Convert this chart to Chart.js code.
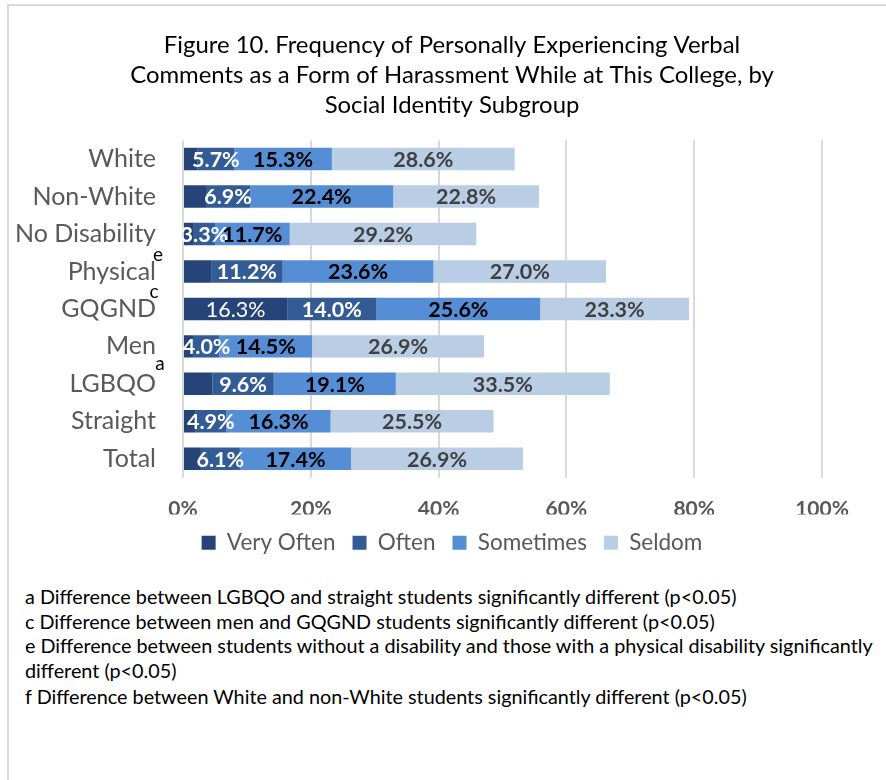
<!DOCTYPE html>
<html>
<head>
<meta charset="utf-8">
<script src="https://cdn.jsdelivr.net/npm/chart.js@4.4.1/dist/chart.umd.min.js"></script>
<style>
  html, body { margin: 0; padding: 0; background: #fff; overflow: hidden; }
  body { width: 886px; height: 780px; position: relative; overflow: hidden; font-family: Lato, "Open Sans", sans-serif; }
  #frame { position: absolute; left: 7px; top: 4px; width: 900px; height: 800px;
           border-top: 2px solid #d9d9d9; border-left: 2px solid #d9d9d9; }
  #wrap { position: absolute; left: 0; top: 0; width: 900px; height: 570px; }
  #notes { position: absolute; left: 25px; top: 584px; font-size: 19.8px; line-height: 24.6px;
           color: #000; white-space: nowrap; }
  #notes .last { margin-top: 2px; }
</style>
</head>
<body>
<div id="frame"></div>
<div id="wrap"><canvas id="myChart"></canvas></div>
<div id="notes">
<div>a Difference between LGBQO and straight students significantly different (p&lt;0.05)</div>
<div>c Difference between men and GQGND students significantly different (p&lt;0.05)</div>
<div>e Difference between students without a disability and those with a physical disability significantly</div>
<div>different (p&lt;0.05)</div>
<div class="last">f Difference between White and non-White students significantly different (p&lt;0.05)</div>
</div>
<script>
const categories = ['White', 'Non-White', 'No Disability', 'Physical', 'GQGND', 'Men', 'LGBQO', 'Straight', 'Total'];
const veryOften = [2.3, 3.6, 1.7, 4.4, 16.3, 1.7, 4.6, 1.9, 2.8];
const often = [5.7, 6.9, 3.3, 11.2, 14.0, 4.0, 9.6, 4.9, 6.1];
const sometimes = [15.3, 22.4, 11.7, 23.6, 25.6, 14.5, 19.1, 16.3, 17.4];
const seldom = [28.6, 22.8, 29.2, 27.0, 23.3, 26.9, 33.5, 25.5, 26.9];
const xTicks = [0, 20, 40, 60, 80, 100];
// superscript footnote letters attached to category labels
const superscripts = [
  { cat: 'Physical', letter: 'e', dx: 3, dy: -17 },
  { cat: 'GQGND', letter: 'c', dx: -1, dy: -17 },
  { cat: 'Men', letter: 'a', dx: 5, dy: 17 }
];

const FONT = 'Lato, "Open Sans", sans-serif';

// draws the value labels inside the bar segments
const segLabels = {
  id: 'segLabels',
  afterDatasetsDraw(chart) {
    const ctx = chart.ctx;
    ctx.save();
    ctx.textAlign = 'center';
    ctx.textBaseline = 'middle';
    chart.data.datasets.forEach((ds, di) => {
      const meta = chart.getDatasetMeta(di);
      meta.data.forEach((bar, i) => {
        const v = ds.data[i];
        if (v < ds.minLabel) return;
        ctx.font = ds.labelWeight + ' 21.5px ' + FONT;
        ctx.fillStyle = ds.labelColor;
        ctx.fillText(v.toFixed(1) + '%', (bar.x + bar.base) / 2, bar.y + 1);
      });
    });
    ctx.restore();
  },
  afterDraw(chart) {
    const ctx = chart.ctx;
    const y = chart.scales.y;
    ctx.save();
    ctx.font = '19px ' + FONT;
    ctx.fillStyle = '#000';
    ctx.textAlign = 'center';
    ctx.textBaseline = 'middle';
    superscripts.forEach(s => {
      const py = y.getPixelForValue(categories.indexOf(s.cat));
      ctx.fillText(s.letter, 155 + s.dx, py + s.dy);
    });
    ctx.restore();
  }
};

new Chart(document.getElementById('myChart'), {
  type: 'bar',
  data: {
    labels: categories,
    datasets: [
      { label: 'Very Often', data: veryOften, backgroundColor: '#264478', minLabel: 10, labelColor: '#fff', labelWeight: 'normal' },
      { label: 'Often', data: often, backgroundColor: '#335c96', minLabel: 0, labelColor: '#fff', labelWeight: 'bold' },
      { label: 'Sometimes', data: sometimes, backgroundColor: '#558ed5', minLabel: 0, labelColor: '#000', labelWeight: 'bold' },
      { label: 'Seldom', data: seldom, backgroundColor: '#b9cde5', minLabel: 0, labelColor: '#404040', labelWeight: 'bold' }
    ]
  },
  options: {
    indexAxis: 'y',
    maintainAspectRatio: false,
    responsive: true,
    animation: false,
    categoryPercentage: 1,
    barPercentage: 0.6,
    layout: { padding: { left: 8, right: 4, top: 0, bottom: 6 } },
    scales: {
      x: {
        stacked: true,
        min: 0, max: 100,
        afterBuildTicks(scale) { scale.ticks = xTicks.map(v => ({ value: v })); },
        afterFit(scale) { scale.height = 37; },
        grid: { color: '#d9d9d9', lineWidth: 2, drawTicks: false },
        border: { display: false },
        ticks: {
          padding: 19,
          color: '#595959',
          font: { family: FONT, size: 21, weight: 'bold' },
          callback: v => v + '%'
        }
      },
      y: {
        stacked: true,
        afterFit(scale) { scale.width = 175; },
        grid: { display: false, drawTicks: false },
        border: { display: false },
        ticks: {
          padding: 27,
          color: '#595959',
          font: { family: FONT, size: 25 }
        }
      },
      // empty right-hand margin so the title and legend centre like the original
      yRight: {
        position: 'right',
        afterFit(scale) { scale.width = 74; },
        grid: { display: false, drawTicks: false },
        border: { display: false },
        ticks: { display: false }
      }
    },
    plugins: {
      title: {
        display: true,
        text: ['Figure 10. Frequency of Personally Experiencing Verbal',
               'Comments as a Form of Harassment While at This College, by',
               'Social Identity Subgroup'],
        color: '#000',
        font: { family: FONT, size: 23.9, weight: 'normal', lineHeight: 1.26 },
        padding: { top: 30, bottom: 20 }
      },
      legend: {
        position: 'bottom',
        labels: {
          boxWidth: 14, boxHeight: 14,
          padding: 17,
          color: '#595959',
          font: { family: FONT, size: 22.5 }
        }
      },
      tooltip: { enabled: false }
    }
  },
  plugins: [segLabels]
});
</script>
</body>
</html>
